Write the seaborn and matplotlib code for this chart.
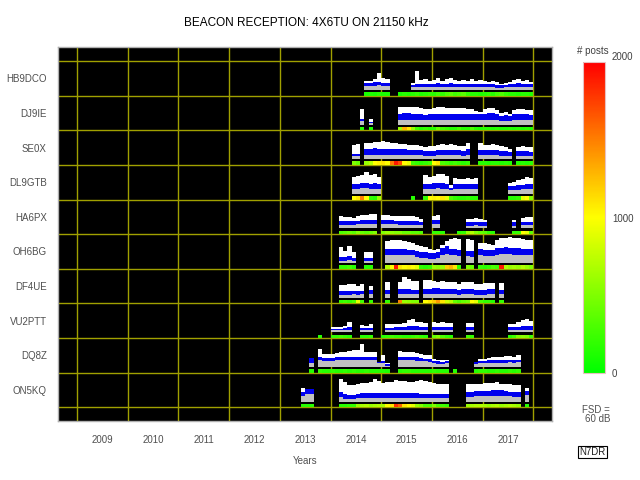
import numpy as np
import matplotlib
matplotlib.use("Agg")
import matplotlib.pyplot as plt
import seaborn as sns

_ = None

# months counted from Jan 2013 (index 0); signal levels in dB above floor, posts per month
STATIONS = ["HB9DCO", "DJ9IE", "SE0X", "DL9GTB", "HA6PX",
            "OH6BG", "DF4UE", "VU2PTT", "DQ8Z", "ON5KQ"]

HB9DCO_START = 20
HB9DCO_HI = [19, 20, 24, 36, 26, 24] + [_] * 5 + [14, 40, 22, 23, 20, 22, 25, 20, 23, 25, 22, 19, 22, 20, 23, 20, 22, 20, 18, 19, 18, 13, 14, 18, 22, 23, 20, 22, 18]
HB9DCO_MID = [16, 16, 17, 17, 16, 15] + [_] * 5 + [11, 12, 13, 13, 12, 13, 14, 13, 13, 14, 13, 12, 13, 12, 13, 12, 13, 12, 12, 12, 11, 10, 11, 12, 13, 14, 13, 13, 12]
HB9DCO_LO = [9, 8, 9, 10, 9, 8] + [_] * 5 + [6, 6, 7, 6, 6, 7, 7, 6, 7, 7, 6, 6, 7, 6, 7, 6, 6, 6, 6, 6, 5, 5, 6, 6, 7, 7, 6, 7, 6]
HB9DCO_POSTS = [100, 120, 100, 150, 100, 100] + [_, _, 100, 150, 120] + [150, 200, 120, 150, 200, 150, 250, 200, 300, 350, 250, 300, 350, 200, 150, 150, 120, 150, 200, 150, 250, 300, 200, 150, 150, 120, 150, 150, 120]

DJ9IE_START = 19
DJ9IE_HI = [34, _, 11] + [_] * 6 + [37, 38, 38, 38, 37, 35, 33, 34, 36, 37, 37, 36, 35, 35, 36, 35, 34, 33, 30, 28, 33, 36, 36, 32, 24, 27, 23, 32, 34, 33, 32, 31]
DJ9IE_MID = [12, _, 6] + [_] * 6 + [23, 24, 24, 23, 23, 22, 21, 22, 23, 23, 23, 22, 22, 22, 23, 22, 22, 22, 23, 22, 23, 24, 24, 22, 19, 20, 18, 22, 23, 22, 22, 21]
DJ9IE_LO = [7, _, 4] + [_] * 6 + [10, 10, 10, 10, 10, 9, 9, 9, 10, 10, 10, 9, 9, 9, 10, 9, 9, 9, 10, 9, 10, 10, 10, 9, 8, 8, 8, 9, 10, 9, 9, 9]
DJ9IE_POSTS = [150, _, 120] + [_] * 6 + [600, 1300, 1100, 600, 250, 150, 200, 150, 150, 400, 250, 200, 150, 150, 250, 150, 150, 300, 150, 120, 150, 150, 120, 150, 120, 120, 150, 120, 150, 120, 150, 120]

SE0X_START = 17
SE0X_HI = [30, 32, _, 35, 36, 38, 38, 39, 37, 36, 35, 33, 32, 31, 31, 30, 29, 27, 28, 29, 31, 32, 31, 32, 30, 29, 28, 36, _, _, 34, 31, 30, 32, 31, 29, 27, 22, _, 27, 28, 27, 26]
SE0X_MID = [11, 12, _, 22, 23, 24, 23, 23, 22, 22, 22, 21, 21, 20, 20, 19, 19, 17, 17, 18, 19, 20, 20, 20, 19, 19, 18, 22, _, _, 20, 19, 19, 20, 19, 18, 17, 15, _, 17, 17, 17, 16]
SE0X_LO = [6, 6, _, 9, 10, 10, 10, 10, 9, 9, 9, 9, 8, 8, 8, 8, 8, 7, 7, 7, 8, 8, 8, 8, 8, 8, 7, 9, _, _, 8, 8, 8, 8, 8, 7, 7, 6, _, 7, 7, 7, 7]
SE0X_POSTS = [500, 400, _, 600, 700, 1000, 1050, 1100, 1000, 1500, 1900, 1700, 1000, 900, 250, 200, 150, 200, 250, 1000, 1100, 300, 250, 200, 250, 200, 150, 200, _, _, 150, 150, 120, 150, 150, 120, 150, 120, _, 120, 150, 120, 150]

DL9GTB_START = 17
DL9GTB_HI = [36, 38, 40, 47, 40, 43, 36] + [_] * 10 + [40, 36, 38, 43, 43, 38, 18, 34, 32, 32, 34, 32, 34] + [_] * 7 + [24, 25, 29, 33, 36, 34]
DL9GTB_MID = [22, 22, 23, 24, 22, 23, 21] + [_] * 10 + [22, 22, 23, 24, 23, 22, 13, 21, 21, 21, 21, 21, 21] + [_] * 7 + [16, 17, 19, 20, 21, 21]
DL9GTB_LO = [11, 11, 12, 12, 11, 11, 10] + [_] * 10 + [11, 11, 11, 12, 11, 11, 8, 10, 10, 10, 10, 10, 10] + [_] * 7 + [8, 8, 9, 10, 10, 10]
DL9GTB_POSTS = [1000, 1100, 1500, 1000, 200, 150, 600] + [_] * 7 + [150, _, _] + [200, 1000, 1050, 1000, 1100, 900, 300, 200, 150, 150, 200, 150, 150] + [_] * 7 + [150, 150, 200, 900, 1000, 500]

HA6PX_START = 14
HA6PX_HI = [26, 25, 25, 23, 27, 29, 29, 31, 32, _, 30, 29, 28, 28, 27, 27, 26, 26, 24, 20, _, _, 28, 30] + [_] * 6 + [20, 21, 22, 20, 18] + [_] * 6 + [18, _, 23, 25, 24]
HA6PX_MID = [16, 16, 16, 17, 17, 18, 18, 18, 18, _, 18, 18, 18, 17, 17, 17, 17, 16, 16, 13, _, _, 18, 18] + [_] * 6 + [14, 14, 15, 14, 13] + [_] * 6 + [14, _, 15, 15, 15]
HA6PX_LO = [8, 8, 8, 8, 9, 9, 9, 9, 9, _, 9, 9, 9, 9, 8, 8, 8, 8, 8, 7, _, _, 9, 9] + [_] * 6 + [6, 6, 7, 6, 6] + [_] * 6 + [6, _, 7, 7, 7]
HA6PX_POSTS = [300, 350, 400, 350, 500, 400, 350, 400, 500, _, 500, 600, 550, 500, 500, 400, 400, 350, 350, 300, _, _, 200, 200, 150, _, _, _, 150, 200, 600, 700, 500, 400, 350, 200, 150, _, _, _, _, 200, 200, 1000, 900, 350]

OH6BG_START = 14
OH6BG_HI = [34, 27, 37, 23, _, _, 25, 23, _, _, _, 48, 49, 50, 50, 47, 46, 44, 40, 36, 34, 30, 28, 30, 40, 48, 52, 54, 53, _, 52, 50, _, 44, 43, 42, 40, 50, 54, 55, 56, 55, 54, 52, 50, 51]
OH6BG_MID = [14, 13, 15, 12, _, _, 12, 12, _, _, _, 30, 31, 31, 31, 30, 29, 29, 27, 25, 24, 22, 22, 24, 33, 36, 30, 30, 29, _, 27, 26, _, 30, 29, 28, 28, 32, 33, 34, 33, 32, 32, 31, 30, 30]
OH6BG_LO = [5, 5, 6, 5, _, _, 5, 5, _, _, _, 17, 18, 18, 18, 17, 17, 17, 14, 11, 10, 9, 9, 10, 17, 20, 17, 17, 16, _, 15, 14, _, 17, 16, 16, 15, 18, 19, 19, 19, 18, 18, 17, 17, 17]
OH6BG_POSTS = [200, 200, 250, 150, _, _, 150, 150, _, _, _, 700, 1000, 1900, 1100, 1000, 1050, 1000, 900, 200, 150, 200, 600, 550, 600, 1200, 1300, 1100, 200, _, 500, 400, _, 200, 150, 200, 300, 250, 1900, 700, 600, 650, 600, 700, 600, 500]

DF4UE_START = 14
DF4UE_HI = [28, 27, 29, 30, 26, 29, _, 25, _, _, _, 35, _, _, 35, 45, 40, 37, 37, _, 39, 38, 36, 35, 36, 35, 34, 35, 30, 34, 34, 33, 30, 30, 31, 32, 31, _, 32]
DF4UE_MID = [14, 14, 15, 15, 14, 15, _, 16, _, _, _, 17, _, _, 18, 19, 18, 17, 17, _, 19, 19, 20, 20, 19, 19, 18, 18, 17, 18, 18, 18, 17, 17, 17, 18, 18, _, 17]
DF4UE_LO = [6, 6, 6, 7, 6, 7, _, 8, _, _, _, 9, _, _, 9, 9, 9, 8, 8, _, 8, 8, 8, 8, 8, 8, 7, 7, 6, 7, 7, 7, 6, 6, 6, 7, 7, _, 8]
DF4UE_POSTS = [200, 250, 200, 300, 900, 250, _, 200, _, _, _, 200, _, _, 1500, 600, 550, 500, 500, _, 1000, 1100, 1200, 1400, 1100, 800, 700, 400, 300, 400, 450, 1000, 900, 300, 200, 200, 150, _, 200]

VU2PTT_START = 9
VU2PTT_HI = [_, _, _, 11, 11, 12, 13, 23, _, _, 15, 14, 17, _, _, _, 17, 18, 18, 19, 20, 26, 29, 23, 22, 20, _, 22, 21, 22, 21, 20, _, _, _, 20, 20] + [_] * 8 + [18, 19, 22, 26, 28, 25]
VU2PTT_MID = [_, _, _, 8, 8, 8, 9, 12, _, _, 9, 9, 10, _, _, _, 10, 10, 11, 11, 11, 13, 13, 13, 12, 11, _, 12, 12, 12, 12, 11, _, _, _, 11, 11] + [_] * 8 + [11, 11, 12, 13, 14, 13]
VU2PTT_LO = [_, _, _, 4, 4, 4, 4, 5, _, _, 4, 4, 5, _, _, _, 4, 4, 5, 5, 5, 5, 6, 5, 5, 5, _, 5, 5, 5, 5, 5, _, _, _, 5, 5] + [_] * 8 + [5, 5, 5, 6, 6, 6]
VU2PTT_POSTS = [150, _, _, 200, 200, 250, 200, 150, _, _, 150, 150, 200, _, _, 150, 200, 250, 200, 200, 150, 150, 200, 250, 200, 150, _, 400, 500, 300, 200, 150, _, _, _, 250, 200] + [_] * 8 + [150, 250, 500, 550, 500, 250]

DQ8Z_START = 7
DQ8Z_HI = [20, _, 38, 29, 29, 28, 31, 32, 32, 34, 36, 36, 50, 32, 32, 32, 11, 25, 8, _, _, 34, 33, 33, 32, 31, 29, 26, 25, 17, 16, 15, 16, _, _, _, _, _, _, 11, 18, 18, 19, 21, 22, 22, 23, 24, 22, 25]
DQ8Z_MID = [19, _, 22, 20, 20, 20, 21, 21, 21, 22, 22, 22, 22, 21, 21, 21, 10, 12, 6, _, _, 22, 22, 22, 21, 21, 20, 18, 17, 13, 12, 11, 12, _, _, _, _, _, _, 10, 13, 13, 14, 15, 15, 15, 16, 16, 15, 16]
DQ8Z_LO = [9, _, 14, 13, 13, 13, 14, 14, 14, 14, 14, 14, 14, 14, 14, 14, 8, 8, 3, _, _, 14, 14, 14, 14, 13, 13, 12, 11, 8, 7, 7, 8, _, _, _, _, _, _, 6, 8, 8, 8, 9, 9, 9, 9, 10, 9, 10]
DQ8Z_POSTS = [150, _, 200, 150, 150, 200, 150, 150, 200, 150, 200, 150, 150, 200, 150, 150, 150, 150, 120, _, _, 150, 200, 200, 150, 150, 150, 150, 150, 200, 150, 150, 150, _, 150, _, _, _, _, 150, 200, 200, 150, 150, 200, 150, 150, 200, 150, 200]

ON5KQ_START = 5
ON5KQ_HI = [29, 28, 28] + [_] * 6 + [49, 42, 36, 35, 38, 40, 40, 43, 49, 45, 40, 42, 43, 47, 45, 44, 43, 43, 45, 47, 45, 42, 40, 38, 38, 37] + [_] * 4 + [37, 37, 38, 39, 40, 40, 41, 42, 38, 37, 38, 36, 35, _, 30]
ON5KQ_MID = [21, 27, 27] + [_] * 6 + [20, 16, 15, 15, 17, 18, 18, 19, 19, 18, 18, 19, 19, 19, 18, 18, 18, 18, 18, 17, 17, 17, 16, 16, 16, 16] + [_] * 4 + [21, 21, 22, 22, 22, 23, 24, 25, 24, 22, 21, 20, 20, _, 23]
ON5KQ_LO = [13, 17, 17] + [_] * 6 + [9, 6, 6, 6, 7, 8, 8, 8, 8, 8, 8, 8, 8, 8, 8, 8, 8, 8, 8, 7, 7, 7, 7, 7, 7, 7] + [_] * 4 + [10, 10, 11, 11, 11, 12, 13, 13, 13, 11, 11, 10, 10, _, 14]
ON5KQ_POSTS = [150, 150, 150] + [_] * 6 + [150, 150, 200, 200, 600, 650, 700, 600, 650, 700, 650, 1000, 1100, 1800, 1600, 1100, 1000, 900, 600, 500, 300, 300, 500, 300, 250, 200] + [_] * 4 + [600, 650, 700, 700, 650, 600, 650, 700, 600, 650, 700, 650, 600, _, 150]

YEARS = list(range(2009, 2018))
POSTS_MAX = 2000
FSD_DB = 60

station_data = [
    (HB9DCO_START, HB9DCO_HI, HB9DCO_MID, HB9DCO_LO, HB9DCO_POSTS),
    (DJ9IE_START, DJ9IE_HI, DJ9IE_MID, DJ9IE_LO, DJ9IE_POSTS),
    (SE0X_START, SE0X_HI, SE0X_MID, SE0X_LO, SE0X_POSTS),
    (DL9GTB_START, DL9GTB_HI, DL9GTB_MID, DL9GTB_LO, DL9GTB_POSTS),
    (HA6PX_START, HA6PX_HI, HA6PX_MID, HA6PX_LO, HA6PX_POSTS),
    (OH6BG_START, OH6BG_HI, OH6BG_MID, OH6BG_LO, OH6BG_POSTS),
    (DF4UE_START, DF4UE_HI, DF4UE_MID, DF4UE_LO, DF4UE_POSTS),
    (VU2PTT_START, VU2PTT_HI, VU2PTT_MID, VU2PTT_LO, VU2PTT_POSTS),
    (DQ8Z_START, DQ8Z_HI, DQ8Z_MID, DQ8Z_LO, DQ8Z_POSTS),
    (ON5KQ_START, ON5KQ_HI, ON5KQ_MID, ON5KQ_LO, ON5KQ_POSTS),
]

sns.set_style("white")
plt.rcParams["font.family"] = ["Liberation Sans", "DejaVu Sans"]

cmap = sns.blend_palette(["#00ff00", "#ffff00", "#ff0000"], as_cmap=True)
norm = plt.Normalize(0, POSTS_MAX)

fig = plt.figure(figsize=(6.4, 4.8), dpi=100)
ax = fig.add_axes([58.3 / 640, 1 - 421 / 480, (551.7 - 58.3) / 640, (421 - 46.7) / 480])
ax.set_facecolor("black")

# station band geometry (in band units)
STRIP_H = 0.1
STACK_BASE = 0.165
DB_UNIT = 0.8 / FSD_DB
W = 1 / 12

for j, (start, hi, mid, lo, posts) in enumerate(station_data):
    base = len(STATIONS) - 1 - j
    hi = np.array(hi, dtype=float)
    mid = np.array(mid, dtype=float)
    lo = np.array(lo, dtype=float)
    posts = np.array(posts, dtype=float)
    x = 2013 + (start + np.arange(len(hi))) / 12

    m = ~np.isnan(posts)
    ax.bar(x[m], STRIP_H, width=W, bottom=base, align="edge",
           color=cmap(norm(posts[m])), linewidth=0, zorder=3)

    s = ~np.isnan(hi)
    y0 = base + STACK_BASE
    ax.bar(x[s], hi[s] * DB_UNIT, width=W, bottom=y0, align="edge",
           color="white", linewidth=0, zorder=3)
    ax.bar(x[s], (mid[s] - lo[s]) * DB_UNIT, width=W, bottom=y0 + lo[s] * DB_UNIT,
           align="edge", color="#0000ee", linewidth=0, zorder=4)
    ax.bar(x[s], lo[s] * DB_UNIT, width=W, bottom=y0, align="edge",
           color="#c0c0c0", linewidth=0, zorder=4)

grid_col = "#a0a000"
for k in range(len(STATIONS) + 1):
    ax.axhline(k, color=grid_col, lw=1.0, zorder=1)
for yr in YEARS + [YEARS[-1] + 1]:
    ax.axvline(yr, color=grid_col, lw=1.0, zorder=1)

ax.set_xlim(2008.631, 2018.363)
ax.set_ylim(-0.396, 10.413)

ax.set_yticks([len(STATIONS) - 1 - j + 0.5 for j in range(len(STATIONS))])
ax.set_yticklabels(STATIONS)
ax.tick_params(axis="y", length=0, pad=8.4, labelsize=7, labelcolor="#505050")

ax.set_xticks(YEARS + [YEARS[-1] + 1])
ax.set_xticklabels([])
ax.set_xticks([y + 0.5 for y in YEARS], minor=True)
ax.set_xticklabels([str(y) for y in YEARS], minor=True)
ax.tick_params(axis="x", which="major", length=4, width=1, color="#909090", direction="out")
ax.tick_params(axis="x", which="minor", length=0, pad=10, labelsize=7, labelcolor="#505050")

for sp in ax.spines.values():
    sp.set_color("#b0b0b0")
    sp.set_linewidth(1)

fig.text(306 / 640, 1 - 23.5 / 480, "BEACON RECEPTION: 4X6TU ON 21150 kHz",
         ha="center", va="center", fontsize=8.5, color="black")
fig.text(305 / 640, 1 - 461 / 480, "Years", ha="center", va="center",
         fontsize=7, color="#505050")

# colour scale for number of posts
cax = fig.add_axes([583.3 / 640, 1 - 372.7 / 480, 21.7 / 640, (372.7 - 62.3) / 480])
sm = plt.cm.ScalarMappable(cmap=cmap, norm=norm)
cb = fig.colorbar(sm, cax=cax, ticks=[0, 1000])
cb.outline.set_edgecolor("#e8c0c0")
cb.outline.set_linewidth(0.8)
cax.tick_params(length=0, pad=5, labelsize=7, labelcolor="#404040")
cax.text(1.3, 1.0, str(POSTS_MAX), transform=cax.transAxes, ha="left", va="bottom",
         fontsize=7, color="#404040")

fig.text(592.5 / 640, 1 - 50.8 / 480, "# posts", ha="center", va="center",
         fontsize=7, color="#404040")
fig.text(582 / 640, 1 - 410 / 480, "FSD =", ha="left", va="center",
         fontsize=7, color="#505050")
fig.text(585 / 640, 1 - 419 / 480, f"{FSD_DB} dB", ha="left", va="center",
         fontsize=7, color="#505050")
fig.text(592.5 / 640, 1 - 452 / 480, "N7DR", ha="center", va="center",
         fontsize=7, color="#202020",
         bbox=dict(boxstyle="square,pad=0.15", fc="white", ec="black", lw=0.8))

fig.savefig("out.png", dpi=100, facecolor="white")
